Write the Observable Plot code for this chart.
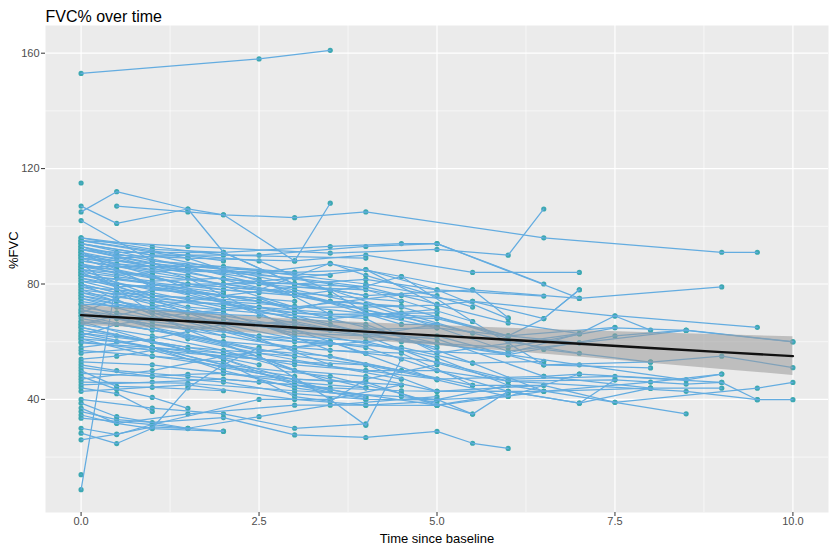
<!DOCTYPE html>
<html>
<head>
<meta charset="utf-8">
<script src="https://cdn.jsdelivr.net/npm/d3@7"></script>
<script src="https://cdn.jsdelivr.net/npm/@observablehq/plot@0.6"></script>
<style>
  html, body { margin: 0; padding: 0; background: #ffffff; }
  #chart { width: 829px; height: 546px; }
</style>
</head>
<body>
<div id="chart"></div>
<script>
// Each subject: list of [time since baseline (years), %FVC]
const subjectVisits = [
  [[0,153],[2.5,158],[3.5,161]],
  [[0,115]],
  [[0,105],[0.5,112],[1.5,106],[2,91],[3,80],[4,76]],
  [[0,107],[0.5,101],[1.5,106],[2,104],[3,88],[3.5,108]],
  [[0.5,107],[1.5,105],[2,104],[3,103],[4,105],[6.5,96],[9,91],[9.5,91]],
  [[0,102],[1,88],[2,85],[3,80]],
  [[0,96],[1,92],[2,91],[3.5,93],[4.5,94],[5,94],[7,75],[9,79]],
  [[0,95],[1.5,93],[3.5,90.7],[5,92],[6,90],[6.5,106]],
  [[0,94],[1,90],[2.5,90],[4,93],[5,94],[6.5,80]],
  [[0,93],[0.5,90],[1.5,89],[3,88],[4,90],[5.5,84],[7,84]],
  [[0,93],[1,88],[2,86],[3,84],[4,85],[5,78],[6,68]],
  [[0,92],[0.5,91],[1,91],[2,90.9],[3,80],[4,79],[5,73]],
  [[0,91],[0.5,87],[1.5,85],[2.5,84],[3.5,87],[4.5,82.6],[5.5,78],[7,75]],
  [[0,90],[1,86],[2,81.6],[3,80],[4,81.6],[5,78],[6.5,75.8]],
  [[0,90],[0.5,89],[1.5,90],[2.5,88],[3.5,77.6],[4,70],[5,64.8]],
  [[0,89],[1,85],[2,84],[3,82],[4,85],[5,72.7],[6,66.5],[7,62.8],[7.5,69],[9.5,65]],
  [[0,88],[0.5,86],[1,84],[2,80],[3.5,74],[4.5,72],[6,62],[7.5,65]],
  [[0,88],[1.5,83],[3,72],[4.5,76.2],[5.5,74],[6.5,68],[7,78]],
  [[0,87],[1,80],[2,74],[3,72.3],[4,69.8],[5,68.6],[6.5,57.3],[8,52.9],[9,55],[10,51]],
  [[0,86],[0.5,85],[1.5,80],[2.5,78],[3.5,87.2],[4,83],[5.5,72]],
  [[0,86],[1,82],[2,78],[3,76],[4,79.3],[4.5,82.6],[5.5,67]],
  [[0,85],[0.5,83],[1,84],[1.5,85.3],[2.5,81.7],[3.5,69.5],[5,70]],
  [[0,84],[1,81],[2,82],[3,78],[4,73],[5,65],[6,56.7],[7,59.6],[8.5,63.9],[10,59.9]],
  [[0,84],[0.5,79],[1.5,80],[3,80.2],[4,76],[5.5,78],[6,68.3]],
  [[0,83],[1,78],[2,76],[3,72],[4,72],[5,72.7],[5.5,74],[7.5,68.9],[8,64]],
  [[0,82],[0.5,80],[1.5,77],[2.5,75],[3,71],[3.5,74],[4.5,72.3]],
  [[0,82],[1,76],[2.5,74],[4,65],[5,59.4],[6,55.5],[7,52],[8.5,46.8],[9,48.8]],
  [[0,81],[1,79],[2,76],[3,79],[4,78],[5.5,67],[6.5,52],[8,50.9]],
  [[0,80],[0.5,77],[1.5,75],[2,74],[3,70],[4,69],[5,68],[6,62],[7,59.6]],
  [[0,80],[1,74],[2,73],[3,68],[4,66],[5.5,52.6],[6.5,53.2]],
  [[0,79],[0.5,78],[1,77],[2,72],[3,70],[4,68],[5,56],[7,62.8]],
  [[0,78],[1,75],[2.5,72],[3.5,66],[4.5,60],[6,58],[7.5,64.8],[8.5,63.9]],
  [[0,78],[0.5,74],[1.5,70],[2.5,68.9],[3.5,64],[5,64.8],[6,62],[6.5,68],[7,78]],
  [[0,77],[1,74],[2,69],[3,65],[4,62],[5,52.6],[6,46.3],[7.5,46.8],[8.5,45.3],[9,45.9],[9.5,39.9],[10,39.9]],
  [[0,76],[0.5,74],[1.5,68],[3,64],[4.5,57],[6,55.5],[7.5,62],[8.5,64],[10,60]],
  [[0,76],[1,70],[2,67],[3,66],[4,63],[5,61],[6.5,48],[7,48.8]],
  [[0,75],[1,71],[2,70],[3,62],[4,60],[5,54.4],[6,44.9],[7.5,39],[8.5,35]],
  [[0,74],[0.5,72],[1.5,70],[2.5,66],[3.5,57],[4.5,56],[5.5,44.9],[6.5,44.9],[7.5,39],[9.5,43.9],[10,45.9]],
  [[0,73],[1,72],[2,68],[3,63],[4,62],[5,59.4],[6,56],[7,62.8]],
  [[0,72],[0.5,70],[1,68],[2,66],[3,61],[4,58],[5,50],[6,42.8],[7,38.7],[8,43.9]],
  [[0,71],[1,67],[2,64],[3,60],[4.5,58],[5.5,52.6],[6.5,42.8],[8,46],[9,48.8]],
  [[0,70],[1,66],[2.5,62],[3.5,60],[5,46.8],[6,41],[7,48.8],[8.5,46.8]],
  [[0,69],[0.5,68],[1.5,64],[3,58],[4,56],[5,53],[6,47],[7.5,48],[9,45.9]],
  [[0,68],[1,64],[2,60],[3,58],[4,60],[5,62],[6.5,52],[8,53]],
  [[0,67],[0.5,66],[1.5,62],[2.5,57],[3.5,55],[4.5,50],[5.5,44.9]],
  [[0,66],[1,62],[2,57],[3,50],[4,48],[5,42.8],[6,42.8],[7,38.7],[7.5,46.8]],
  [[0,65],[1,60],[2,56],[3,52],[4,50],[5,50],[6,46.3],[8.5,42.8],[9.5,39.9]],
  [[0,64],[0.5,62],[1.5,58],[3,55],[4,52],[5,47],[6.5,48],[8,43.9]],
  [[0,63],[1,60],[2,54],[3,45],[4,40],[5,39.9],[6,44.9]],
  [[0,62],[1,58],[2,52],[3.5,48],[4.5,42],[5.5,34.9],[6,42.8]],
  [[0,61],[0.5,60],[1,58],[2,55],[3,53],[4,52],[5,42.8],[6.5,42.8]],
  [[0,60],[1,57],[2,51],[3,47],[4,46],[5,37.9]],
  [[0,59.6],[1,58],[2,50],[3,44],[4,40.7]],
  [[0,96],[1,93],[2,90],[4,89]],
  [[0,95],[2,88]],
  [[0,94],[1.5,86],[3,84]],
  [[0,92],[1.5,85],[3.5,83]],
  [[0,91],[1,86]],
  [[0,89],[1,80],[2,77]],
  [[0,87],[1.5,80],[3.5,76],[4.5,74]],
  [[0,85],[1,76],[2,71]],
  [[0,83],[2,78],[2.5,77]],
  [[0,81],[1.5,72],[3.5,68],[5,71.2]],
  [[0,79],[1,73],[3,63]],
  [[0,77],[1,71],[2.5,61],[3.5,59]],
  [[0,75],[2,62]],
  [[0,73],[1.5,61],[2.5,56],[4.5,47]],
  [[0,71],[1,65],[3,55]],
  [[0,69],[2,59],[3.5,46]],
  [[0,67],[1,60],[2,54],[3.5,43]],
  [[0,65],[1.5,57],[2.5,52]],
  [[0,63],[1,58],[3,46],[4,41]],
  [[0,61],[1,55],[3,48]],
  [[0,93],[1.5,82],[3,64],[4,56]],
  [[0,90],[1,83],[3,65]],
  [[0,87],[1,70],[3,57],[4.5,50]],
  [[0,84],[1.5,70],[3.5,52]],
  [[0,80],[1.5,64],[3,50],[4,44]],
  [[0,95],[1.5,89],[3,77],[4.5,68]],
  [[0,91],[1,79],[3,68],[5,58]],
  [[0,86],[2,86],[4,80],[5,76]],
  [[0,58],[1,61],[2,66],[3,67],[4,62],[5,66]],
  [[0,62],[0.5,66],[1.5,70],[2.5,72],[3.5,70]],
  [[0,66],[1,72],[2,76],[3,74]],
  [[0,70],[0.5,75],[1,78],[2,80],[3,82],[4,79]],
  [[0,54],[0.5,55],[1,57],[2,55],[3,53],[4,50],[5,47]],
  [[0,53],[1,52],[2,49],[3,47],[4.5,45]],
  [[0,52],[0.5,50],[1.5,48],[2.5,46],[3.5,44],[4.5,43],[5,42.8],[6.5,44.9]],
  [[0,51],[1,48],[1.5,48.7],[2,49],[3,46],[4,44]],
  [[0,50],[0.5,44.5],[1,44.2],[2,43]],
  [[0,49],[1,48],[2,46],[3,42],[4,40],[5,39.9],[6,41]],
  [[0,48],[0.5,43.5],[1,40.7],[1.5,36.9]],
  [[0,47],[1,50],[2,55],[3,58],[3.5,60]],
  [[0,46],[1.5,45.6],[3,43],[4.5,41],[5,40],[5.5,34.9]],
  [[0,45],[1,46],[2,47],[3,45],[5,38],[6,42]],
  [[0,44],[0.5,42],[1,35.8]],
  [[0,42.8],[1.5,45],[3,40],[4,38],[5,37.9],[6.5,42.8],[8,43.9],[9,43.9]],
  [[0,40],[1,37],[2,35],[3,30],[4,31.5]],
  [[0,38.7],[0.5,34],[1.5,30],[2,29]],
  [[0,37],[0.5,31.7],[1.5,35],[3,38],[4,38],[5,39.3]],
  [[0,35.8],[0.5,33],[1,32],[2,33.7],[3,27.7],[4,26.8],[5,28.9],[5.5,24.8],[6,23]],
  [[0,34.6],[0.5,31.7],[1,29.9],[2,28.9]],
  [[0,33.5],[1,31.3],[1.5,30],[2.5,34],[3.5,38],[5,41]],
  [[0,30],[0.5,27.8],[1,31.3],[2.5,40],[3.5,40],[4.5,45]],
  [[0,28.3],[0.5,24.7],[1,30],[1.5,44],[2,52],[2.5,58]],
  [[0,26],[0.5,28],[1,30.5],[1.5,29.9]],
  [[0,13.9]],
  [[0,8.7],[0.5,82],[1,80],[2,76]],
  [[0,57],[1,55],[2,53],[3,41],[3.5,39.3],[4,47],[5,52]],
  [[0,56],[1,58],[2.5,55],[3.5,40],[4,31],[4.5,54]],
  [[0,94],[1,90],[2,85],[3.5,80],[4.5,76]],
  [[0,92],[1,87],[3,76],[4,71],[5,66],[6,60],[7,56]],
  [[0,89],[1.5,86],[2.5,80],[3.5,78],[4.5,70],[5.5,63]],
  [[0,85],[1,83],[3,77],[4.5,66],[5,66]],
  [[0,83],[1,80],[2.5,74],[3,72]]
];

// Linear fit and 95% band
const fitTime  = [0, 1, 2, 3, 4, 5, 6, 7, 8, 9, 10];
const fitValue = [69.2, 67.8, 66.4, 64.9, 63.5, 62.1, 60.7, 59.3, 57.8, 56.4, 55.0];
const fitLower = [65.7, 64.7, 63.6, 62.0, 60.4, 58.6, 56.7, 54.7, 52.5, 50.4, 48.3];
const fitUpper = [72.7, 70.9, 69.2, 67.8, 66.6, 65.6, 64.7, 63.9, 63.1, 62.4, 61.7];

const xTicks = [0, 2.5, 5, 7.5, 10];
const xMinor = [1.25, 3.75, 6.25, 8.75];
const yTicks = [40, 80, 120, 160];
const yMinor = [20, 60, 100, 140];

const rows = subjectVisits.flatMap((visits, i) => visits.map(([t, v]) => ({id: i, t, v})));
const fitRows = fitTime.map((t, i) => ({t, fit: fitValue[i], lo: fitLower[i], hi: fitUpper[i]}));

const chart = Plot.plot({
  width: 829,
  height: 546,
  marginLeft: 45,
  marginRight: 1,
  marginTop: 25,
  marginBottom: 34,
  style: {fontFamily: "'Liberation Sans', Arial, sans-serif", color: "#333", background: "#ffffff"},
  x: {domain: [-0.5, 10.5]},
  y: {domain: [0.8, 169.6]},
  marks: [
    Plot.frame({fill: "#EBEBEB", stroke: "none"}),
    Plot.gridX(xMinor, {stroke: "#ffffff", strokeOpacity: 1, strokeWidth: 0.6}),
    Plot.gridY(yMinor, {stroke: "#ffffff", strokeOpacity: 1, strokeWidth: 0.6}),
    Plot.gridX(xTicks, {stroke: "#ffffff", strokeOpacity: 1, strokeWidth: 1.2}),
    Plot.gridY(yTicks, {stroke: "#ffffff", strokeOpacity: 1, strokeWidth: 1.2}),
    Plot.axisX({ticks: xTicks, tickFormat: d3.format(".1f"), tickSize: 4, tickPadding: 1, fontSize: 11, label: null, fill: "#4d4d4d"}),
    Plot.axisY({ticks: yTicks, tickSize: 4, tickPadding: 2, fontSize: 11, label: null, fill: "#4d4d4d"}),
    Plot.dot(rows, {x: "t", y: "v", r: 2.6, fill: "#3DA8B2", stroke: "none"}),
    Plot.line(rows, {x: "t", y: "v", z: "id", stroke: "#63ACE0", strokeWidth: 1.25}),
    Plot.areaY(fitRows, {x: "t", y1: "lo", y2: "hi", fill: "#999999", fillOpacity: 0.55}),
    Plot.line(fitRows, {x: "t", y: "fit", stroke: "#111111", strokeWidth: 2.4}),
    Plot.text(["FVC% over time"], {frameAnchor: "top-left", dy: -15, textAnchor: "start", fontSize: 16, fill: "#000"}),
    Plot.text(["Time since baseline"], {frameAnchor: "bottom", dy: 26, lineAnchor: "middle", fontSize: 13, fill: "#000"}),
    Plot.text(["%FVC"], {frameAnchor: "left", dx: -32, rotate: -90, fontSize: 13, fill: "#000"})
  ]
});
document.getElementById("chart").appendChild(chart);
</script>
</body>
</html>
